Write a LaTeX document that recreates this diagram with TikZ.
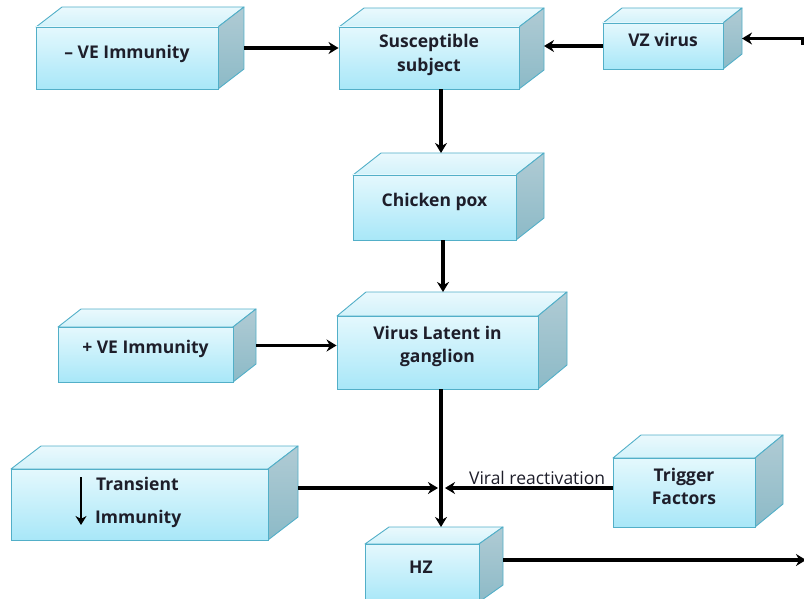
\documentclass[tikz,border=0pt]{standalone}
\usepackage{fontspec}
\setmainfont{Open Sans}
\usetikzlibrary{arrows.meta,calc}
\definecolor{edgec}{HTML}{52AFC8}
\definecolor{frontT}{HTML}{E4F8FD}
\definecolor{frontB}{HTML}{A8E7F8}
\definecolor{topT}{HTML}{EAF9FD}
\definecolor{topB}{HTML}{D2F2FA}
\definecolor{sideT}{HTML}{B0CBD4}
\definecolor{sideB}{HTML}{8CBAC7}
\definecolor{txt}{HTML}{1E1E2A}
\tikzset{
  btext/.style={font=\bfseries\fontsize{17.5}{23.5}\selectfont,text=txt,align=center,inner sep=0pt},
  front/.style={draw=edgec,line width=0.9pt,top color=frontT,bottom color=frontB,inner sep=0pt},
  topface/.style={draw=edgec,line width=0.9pt,top color=topT,bottom color=topB,line join=round},
  sideface/.style={draw=edgec,line width=0.9pt,top color=sideT,bottom color=sideB,line join=round},
  arr/.style={line width=3.4pt,-{Stealth[length=10pt,width=12pt]}},
  lab/.style={font=\fontsize{17.5}{20}\selectfont,text=txt,inner sep=1pt}
}
% name, x1, y1, x2, y2, dx, dy, text, text yshift
\newcommand\mkcube[9]{%
  \pgfmathsetmacro\cw{#4-#2}\pgfmathsetmacro\ch{#5-#3}%
  \path[topface] (#2,#3) -- ++(#6,#7) -- ++(\cw,0) -- (#4,#3) -- cycle;
  \path[sideface] (#4,#3) -- ++(#6,#7) -- ++(0,\ch) -- (#4,#5) -- cycle;
  \node[front,minimum width=\cw pt,minimum height=\ch pt] (#1) at ({(#2+#4)/2},{(#3+#5)/2}) {};
  \node[btext] (#1-txt) at ([yshift=#9pt]#1.center) {#8};
  \coordinate (#1-r) at ({#4+#6},{(#3+#5)/2+#7/2});
  \coordinate (#1-t) at ({(#2+#4)/2},{#3+#7});
}
\begin{document}
\begin{tikzpicture}[x=1pt,y=-1pt]
\useasboundingbox (0,0) rectangle (804,599);
\clip (0,0) rectangle (804,599);
\mkcube{neg}{36}{27}{218}{89}{26}{-20}{– VE Immunity}{4}
\mkcube{sus}{339}{27}{519}{89}{25}{-19}{Susceptible\\subject}{3}
\mkcube{vz}{603}{23}{723}{69}{19}{-15}{VZ virus}{6}
\mkcube{chick}{353}{175}{516}{240}{28}{-22}{Chicken pox}{6}
\mkcube{vl}{337}{316}{538}{389}{29}{-24}{Virus Latent in\\ganglion}{6}
\mkcube{pos}{58}{327}{233}{382}{23}{-18}{+ VE Immunity}{6}
\mkcube{trans}{11}{469}{268}{540}{30}{-23}{}{0}
\mkcube{trig}{613}{458}{755}{527}{28}{-23}{Trigger\\Factors}{6}
\mkcube{hz}{365}{544}{479}{602}{24}{-17}{}{0}
\node[btext,anchor=west] (tr1) at (96,484) {Transient};
\node[btext,anchor=west] (tr2) at (95,519) {Immunity};
\node[btext] (hzt) at (421,567) {HZ};
\coordinate (ta) at (81,477);
\coordinate (tb) at (81,525);
\draw[line width=2.6pt,-{Stealth[length=9pt,width=11pt]}] (ta) -- (tb);
% connectors
\draw[arr] (neg-r) -- (neg-r -| sus.west);
\draw[arr] (vz.west) -- (vz.west -| sus-r);
\coordinate (vzin) at (803,45);
\draw[arr] (vzin) |- (vz-r);
\draw[arr] ([xshift=12pt]sus.south) -- ([xshift=12pt]sus.south |- chick-t);
\draw[arr] ([xshift=8.5pt]chick.south) -- ([xshift=8.5pt]chick.south |- vl-t);
\draw[arr] (pos-r) -- (pos-r -| vl.west);
\draw[arr] ([xshift=3.5pt]vl.south) -- ([xshift=3.5pt]vl.south |- hz-t);
\coordinate (j) at (441,488);
\draw[arr] (trans-r |- j) -- ([xshift=-3pt]j);
\draw[arr] (trig.west |- j) -- node[lab,above=1pt,pos=0.45] {Viral reactivation} ([xshift=4pt]j);
\coordinate (hzout) at (806,560);
\draw[arr] (hz-r |- hzout) -- (hzout);
\end{tikzpicture}
\end{document}
